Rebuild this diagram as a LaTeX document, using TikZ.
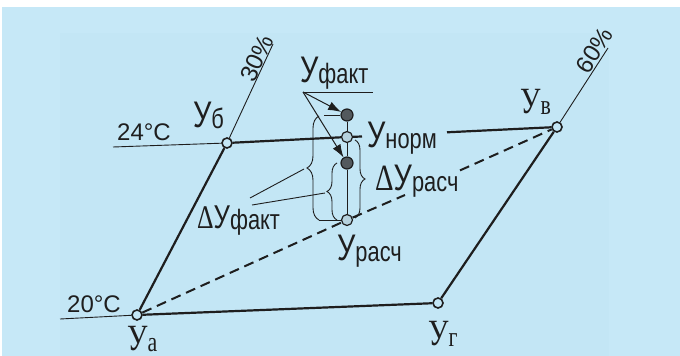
\documentclass[tikz,border=0pt]{standalone}
\usepackage{fontspec}
\setmainfont{Liberation Sans}
\newfontfamily\timesfont{Liberation Serif}
\usetikzlibrary{arrows.meta,decorations.pathreplacing}
\definecolor{bgblue}{HTML}{C6E8F7}
\definecolor{bginner}{HTML}{C3E6F5}
\definecolor{ink}{HTML}{1E1E1E}
\definecolor{dotgray}{HTML}{53595D}
\definecolor{ringgray}{HTML}{B6D2DE}
\newcommand{\lowtext}[1]{\raisebox{-1.5pt}{\fontsize{28}{28}\selectfont #1}}
\tikzset{
  thin line/.style={ink,line width=0.9pt},
  side/.style={ink,line width=2.2pt},
  diag/.style={ink,line width=2pt,dash pattern=on 10pt off 6pt},
  corner/.style={circle,draw=ink,line width=1.6pt,fill=bginner,minimum size=10pt,inner sep=0pt},
  ring/.style={circle,draw=ink,line width=1.2pt,fill=ringgray,minimum size=11pt,inner sep=0pt},
  dot/.style={circle,draw=ink,line width=1.2pt,fill=dotgray,minimum size=12pt,inner sep=0pt},
  lbl/.style={inner sep=0pt,anchor=base west,xscale=0.78,text=ink,font=\fontsize{37}{37}\selectfont},
  serlbl/.style={lbl,font=\fontsize{37}{37}\selectfont\timesfont},
  deg/.style={inner sep=0pt,anchor=base west,text=ink,font=\fontsize{24}{24}\selectfont},
  brc/.style={decorate,decoration={brace,amplitude=#1},ink,line width=0.9pt},
  ptr/.style={ink,line width=1pt,-{Latex[length=13pt,width=9pt]}}
}
\begin{document}
\begin{tikzpicture}[x=1pt,y=-1pt]
  \useasboundingbox (0,0) rectangle (680,356);
  \fill[white] (0,0) rectangle (680,356);
  \fill[bgblue] (2,7) rectangle (680,356);
  \fill[bginner] (60,33) rectangle (609,356);

  \node[corner] (A) at (137,315) {};
  \node[corner] (B) at (227,143) {};
  \node[corner] (V) at (557,127) {};
  \node[corner] (G) at (438,303) {};
  \node[dot] (f1) at (347,115) {};
  \node[ring] (N) at (347,137) {};
  \node[dot] (f2) at (347,163) {};
  \node[ring] (R) at (347,220) {};

  \coordinate (t20) at (60,319);
  \coordinate (t24) at (113,147);
  \coordinate (h30) at (273,44);
  \coordinate (h60) at (608,48);
  \draw[thin line] (t20) -- (A);
  \draw[thin line] (t24) -- (B);
  \draw[thin line] (B) -- (h30);
  \draw[thin line] (V) -- (h60);

  \draw[side] (A) -- (B);
  \draw[side] (A) -- (G);
  \draw[side] (G) -- (V);
  \coordinate (ntail) at (362,136.5);
  \coordinate (nhead) at (447,132.3);
  \draw[side] (B) -- (N);
  \draw[side] (N) -- (ntail);
  \draw[side] (nhead) -- (V);

  \coordinate (dg1) at (405,195);
  \coordinate (dg2) at (460,170.4);
  \draw[diag] (A) -- (R);
  \draw[diag] (R) -- (dg1);
  \draw[diag] (dg2) -- (V);

  \draw[thin line] (f1) -- (N);
  \draw[thin line] (N) -- (f2);
  \draw[thin line] (f2) -- (R);

  \coordinate (ul) at (303,92);
  \coordinate (ur) at (373,92);
  \draw[thin line] (ul) -- (ur);
  \draw[ptr] (ul) -- (f1);
  \draw[ptr] (ul) -- (f2);

  \coordinate (bb1) at (319,220);
  \coordinate (bb2) at (319,116);
  \coordinate (bt) at (324,115);
  \draw[brc=12pt] (bb1) -- (bb2);
  \draw[thin line] (bb1) -- (R);
  \draw[thin line] (bt) -- (f1);
  \coordinate (sb1) at (337,220);
  \coordinate (sb2) at (337,163);
  \draw[brc=10pt] (sb1) -- (sb2);
  \coordinate (rb1) at (355,140);
  \coordinate (rb2) at (355,218);
  \draw[brc=10pt] (rb1) -- (rb2);

  \coordinate (lk1) at (250,198);
  \coordinate (tip1) at (304,169);
  \coordinate (lk2) at (252,205);
  \coordinate (tip2) at (325,193);
  \draw[thin line] (lk1) -- (tip1);
  \draw[thin line] (lk2) -- (tip2);

  \node[deg] (l24) at (117,140) {24°C};
  \node[deg] (l20) at (67,312) {20°C};
  \node[deg,anchor=south,rotate=65] (l30) at (264.6,62) {30\%};
  \node[deg,anchor=south,rotate=57,inner sep=1.5pt] (l60) at (602.8,56) {60\%};

  \node[lbl] (yf) at (300,82) {У\lowtext{факт}};
  \node[lbl] (yn) at (367,147) {У\lowtext{норм}};
  \node[lbl] (yr) at (337,260) {У\lowtext{расч}};
  \node[lbl] (dyr) at (375,190) {{\timesfont Δ}У\lowtext{расч}};
  \node[lbl,font=\fontsize{33}{33}\selectfont] (dyf) at (197,228) {{\timesfont Δ}У\lowtext{факт}};
  \node[lbl] (yb) at (193,127) {У\lowtext{б}};
  \node[serlbl] (yv) at (520,113) {У\lowtext{в}};
  \node[serlbl] (yg) at (428,345) {У\lowtext{г}};
  \node[serlbl] (ya) at (127,350) {У\lowtext{а}};
\end{tikzpicture}
\end{document}
